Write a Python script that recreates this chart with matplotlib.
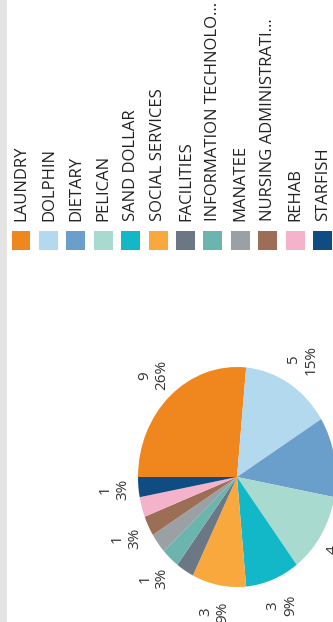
import matplotlib
matplotlib.use("Agg")
import matplotlib.pyplot as plt
from matplotlib.patches import Rectangle

plt.rcParams['font.family'] = ['Open Sans', 'DejaVu Sans']

# data
departments = ["LAUNDRY", "DOLPHIN", "DIETARY", "PELICAN", "SAND DOLLAR", "SOCIAL SERVICES",
               "FACILITIES", "INFORMATION TECHNOLO...", "MANATEE", "NURSING ADMINISTRATI...",
               "REHAB", "STARFISH"]
counts = [9, 5, 4, 4, 3, 3, 1, 1, 1, 1, 1, 1]
colors = ["#F0861E", "#B3D9EF", "#6A9FCB", "#A8DAD0", "#12B8C8", "#F8A83C",
          "#6B7784", "#6BB5AE", "#9AA0A4", "#9C6E55", "#F4B2CB", "#0F4C81"]
# only some slices get a label drawn (dietary's falls outside the picture)
show_label = [True, True, False, True, True, True, False, True, False, True, False, True]

W, H = 333, 622
fig = plt.figure(figsize=(W / 100, H / 100), dpi=100)
fig.patch.set_facecolor("white")

# grey strip on the left edge
fig.patches.append(Rectangle((0, 0), 7 / W, 1, transform=fig.transFigure,
                             facecolor="#e4e4e4", edgecolor="none"))

total = sum(counts)
labels = []
for c, s in zip(counts, show_label):
    labels.append(f"{c}\n{round(100 * c / total)}%" if s else "")

ax = fig.add_axes([0, 0, 1, 1])
cx, cy, rx, ry = 237, 477, 99, 110  # pixels, y from top
wedges, texts = ax.pie(counts, colors=colors, labels=labels, startangle=180,
                       counterclock=False, labeldistance=1.25,
                       wedgeprops=dict(linewidth=0))
for t in texts:
    t.set_rotation(90)
    t.set_ha("center")
    t.set_va("center")
    t.set_multialignment("center")
    t.set_fontsize(11)
    t.set_color("#333333")
    t.set_clip_on(False)
ax.set_aspect("auto")
ax.set_xlim(-cx / rx, (W - cx) / rx)
ax.set_ylim(-(H - cy) / ry, cy / ry)
ax.axis("off")

# legend, drawn rotated
step = 27.4
for i, (name, col) in enumerate(zip(departments, colors)):
    x = 21 + i * step
    fig.patches.append(Rectangle(((x - 9.5) / W, 1 - 250 / H), 19 / W, 19 / H,
                                 transform=fig.transFigure, facecolor=col, edgecolor="none"))
    fig.text((x + 0.5) / W, 1 - 221 / H, name, rotation=90, ha="center", va="bottom",
             fontsize=12, color="#222222")

fig.savefig("out.png", dpi=100)
